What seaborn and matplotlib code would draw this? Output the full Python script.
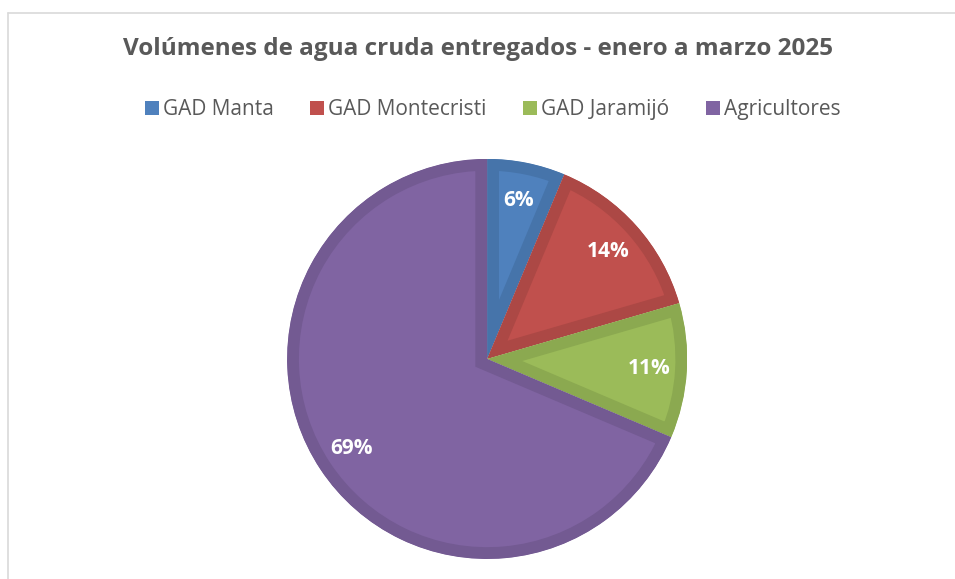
import matplotlib.pyplot as plt
import numpy as np
import seaborn as sns
from matplotlib.lines import Line2D
from matplotlib.patches import Patch

# shares of raw water delivered (percent)
categories = ["GAD Manta", "GAD Montecristi", "GAD Jaramijó", "Agricultores"]
shares = [6.3, 14.2, 10.9, 68.6]
title = "Volúmenes de agua cruda entregados - enero a marzo 2025"

fill_colors = ["#4F81BD", "#C0504D", "#9BBB59", "#8064A2"]
edge_colors = ["#4674AA", "#AC4845", "#8BA950", "#735A92"]
text_gray = "#595959"

sns.set_style("white")
plt.rcParams["font.family"] = ["Open Sans", "DejaVu Sans"]

fig = plt.figure(figsize=(9.55, 5.79), dpi=100)
ax = fig.add_axes([0.3006, 0.0346, 0.419, 0.691])

wedges, texts, autotexts = ax.pie(
    shares, colors=fill_colors, startangle=90, counterclock=False,
    autopct="%1.0f%%", pctdistance=0.81, radius=1,
    textprops=dict(color="white", fontsize=15, fontweight="bold"))

# darker inner band on every slice (stroke clipped to the slice itself)
for w, ec in zip(wedges, edge_colors):
    w.set_edgecolor(ec)
    w.set_linewidth(17)
    w.set_clip_path(w.get_path(), w.get_transform())
    w.set_clip_on(True)

ax.set_xlim(-1, 1)
ax.set_ylim(-1, 1)
ax.set_aspect("equal")
ax.axis("off")

fig.text(0.5, 1 - 49 / 579, title, ha="center", va="center",
         fontsize=17.5, fontweight="bold", color=text_gray)

handles = [Patch(facecolor=c, edgecolor="none") for c in fill_colors]
fig.legend(handles, categories, loc="center", bbox_to_anchor=(0.516, 1 - 110 / 579),
           ncol=4, frameon=False, fontsize=15, labelcolor=text_gray,
           handlelength=0.67, handleheight=0.67, handletextpad=0.2, columnspacing=1.75)

# light chart-area frame (top and left edges visible)
fig.add_artist(Line2D([8 / 955, 1], [1 - 13 / 579, 1 - 13 / 579], color="#D9D9D9", lw=1.2))
fig.add_artist(Line2D([8 / 955, 8 / 955], [0, 1 - 13 / 579], color="#D9D9D9", lw=1.2))

fig.savefig("out.png", dpi=100)
